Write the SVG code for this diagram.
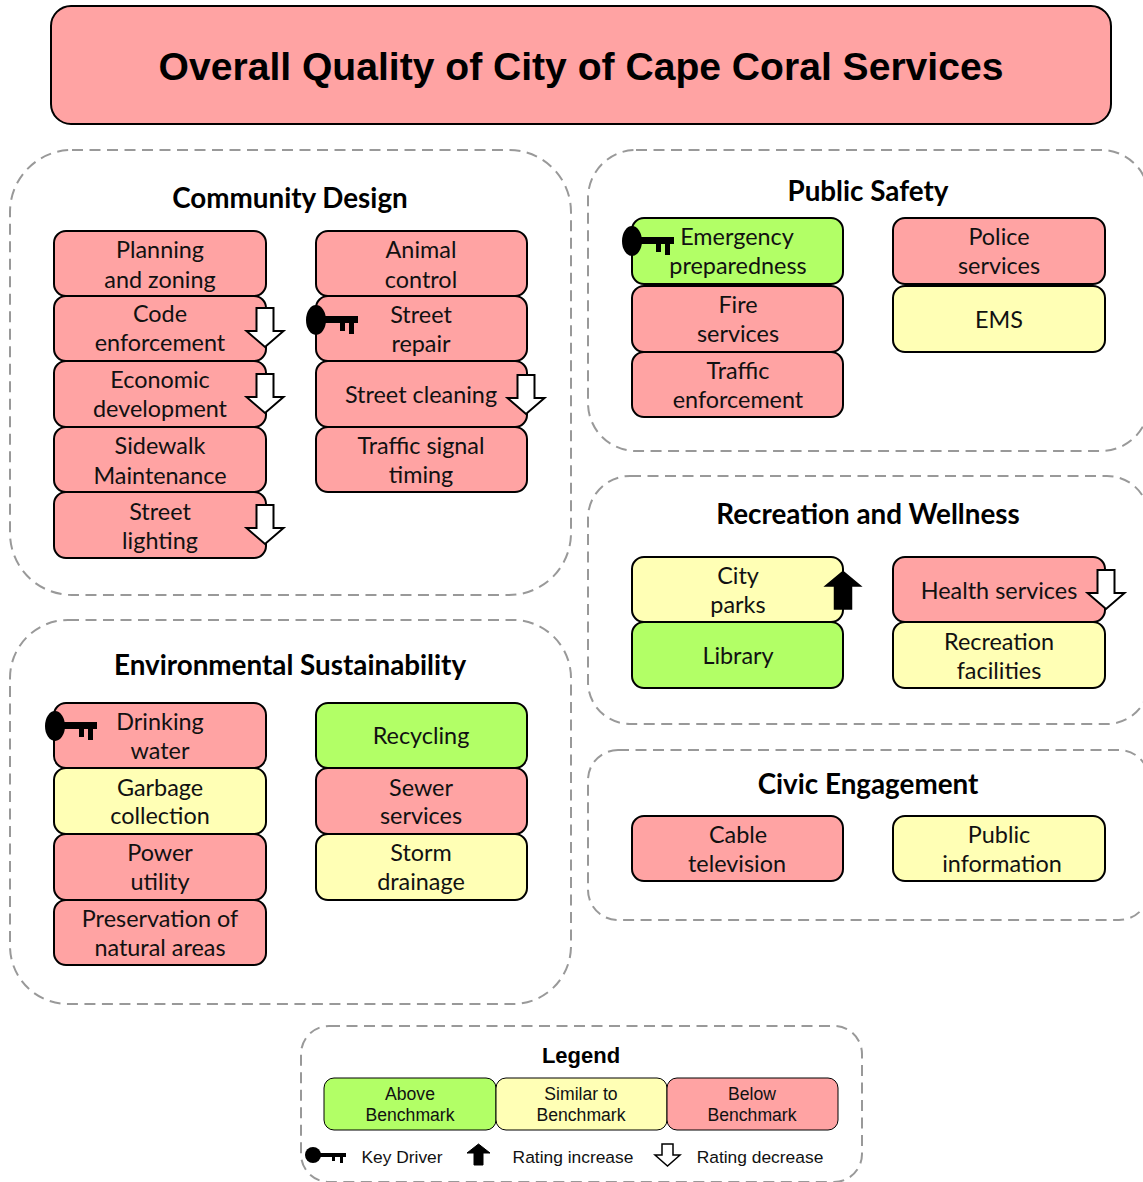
<svg xmlns="http://www.w3.org/2000/svg" xmlns:xlink="http://www.w3.org/1999/xlink" width="1143" height="1182" viewBox="0 0 1143 1182">
<style>
text{font-family:"Lato","Open Sans","Liberation Sans",sans-serif;fill:#111;text-anchor:middle}
.n{font-size:23.400px}
.h{font-size:27.800px;font-weight:700;fill:#000}
.a{font-family:"Liberation Sans",Arial,sans-serif}
.l{font-size:17.600px}
.lg{font-size:17.400px}
.panel{fill:#fff;stroke:#999;stroke-width:2;stroke-dasharray:11 6.5}
.box{stroke:#000;stroke-width:2}
.r{fill:#ffa3a3}.y{fill:#ffffb5}.g{fill:#b2ff66}
</style>
<defs>
<g id="key"><ellipse cx="0" cy="0" rx="10" ry="15"/><path d="M8-4H42V3H38V14H33V3H29V11H24V3H8Z"/></g>
<path id="down" d="M-8.500 0H8.500V23H18.500L0 39L-18.500 23H-8.500Z" fill="#fff" stroke="#000" stroke-width="2"/>
<path id="up" d="M-8.500 38H8.500V15H17.500L0 0.500L-17.500 15H-8.500Z" fill="#000" stroke="#000" stroke-width="1.500"/>
</defs>
<rect width="1143" height="1182" fill="#fff"/>

<g id="title"><rect x="51" y="6" width="1060" height="118" rx="20" class="r" stroke="#000" stroke-width="2"/>
<text class="a" x="581" y="80" font-size="39.100" font-weight="700" style="fill:#000">Overall Quality of City of Cape Coral Services</text></g>

<g id="community-design"><rect class="panel" x="10" y="150" width="561" height="445" rx="62"/><text class="h" x="290" y="208">Community Design</text></g>
<g id="environmental-sustainability"><rect class="panel" x="10" y="620" width="561" height="384" rx="58"/><text class="h" x="290" y="675">Environmental Sustainability</text></g>
<g id="public-safety"><rect class="panel" x="588" y="150" width="561" height="301" rx="48"/><text class="h" x="868" y="201">Public Safety</text></g>
<g id="recreation-wellness"><rect class="panel" x="588" y="476" width="561" height="248" rx="42"/><text class="h" x="868" y="524">Recreation and Wellness</text></g>
<g id="civic-engagement"><rect class="panel" x="588" y="750" width="561" height="170" rx="30"/><text class="h" x="868" y="794">Civic Engagement</text></g>

<g id="planning"><rect class="box r" x="54" y="231" width="212" height="65" rx="12"/><text class="n" x="160" y="258">Planning</text><text class="n" x="160" y="288">and zoning</text></g>
<g id="code"><rect class="box r" x="54" y="296" width="212" height="65" rx="12"/><text class="n" x="160" y="322">Code</text><text class="n" x="160" y="351">enforcement</text><use href="#down" x="265" y="308"/></g>
<g id="economic"><rect class="box r" x="54" y="361" width="212" height="66" rx="12"/><text class="n" x="160" y="388">Economic</text><text class="n" x="160" y="417">development</text><use href="#down" x="265" y="374"/></g>
<g id="sidewalk"><rect class="box r" x="54" y="427" width="212" height="65" rx="12"/><text class="n" x="160" y="454">Sidewalk</text><text class="n" x="160" y="484">Maintenance</text></g>
<g id="lighting"><rect class="box r" x="54" y="492" width="212" height="66" rx="12"/><text class="n" x="160" y="520">Street</text><text class="n" x="160" y="549">lighting</text><use href="#down" x="265" y="505"/></g>

<g id="animal"><rect class="box r" x="316" y="231" width="211" height="65" rx="12"/><text class="n" x="421" y="258">Animal</text><text class="n" x="421" y="288">control</text></g>
<g id="repair"><rect class="box r" x="316" y="296" width="211" height="65" rx="12"/><text class="n" x="421" y="323">Street</text><text class="n" x="421" y="352">repair</text><use href="#key" x="316" y="320"/></g>
<g id="cleaning"><rect class="box r" x="316" y="361" width="211" height="66" rx="12"/><text class="n" x="421" y="403">Street cleaning</text><use href="#down" x="526" y="375"/></g>
<g id="signal"><rect class="box r" x="316" y="427" width="211" height="65" rx="12"/><text class="n" x="421" y="454">Traffic signal</text><text class="n" x="421" y="483">timing</text></g>

<g id="drinking"><rect class="box r" x="54" y="703" width="212" height="65" rx="12"/><text class="n" x="160" y="730">Drinking</text><text class="n" x="160" y="759">water</text><use href="#key" x="55" y="726"/></g>
<g id="garbage"><rect class="box y" x="54" y="768" width="212" height="66" rx="12"/><text class="n" x="160" y="796">Garbage</text><text class="n" x="160" y="824">collection</text></g>
<g id="power"><rect class="box r" x="54" y="834" width="212" height="66" rx="12"/><text class="n" x="160" y="861">Power</text><text class="n" x="160" y="890">utility</text></g>
<g id="preservation"><rect class="box r" x="54" y="900" width="212" height="65" rx="12"/><text class="n" x="160" y="927">Preservation of</text><text class="n" x="160" y="956">natural areas</text></g>
<g id="recycling"><rect class="box g" x="316" y="703" width="211" height="65" rx="12"/><text class="n" x="421" y="744">Recycling</text></g>
<g id="sewer"><rect class="box r" x="316" y="768" width="211" height="66" rx="12"/><text class="n" x="421" y="796">Sewer</text><text class="n" x="421" y="824">services</text></g>
<g id="storm"><rect class="box y" x="316" y="834" width="211" height="66" rx="12"/><text class="n" x="421" y="861">Storm</text><text class="n" x="421" y="890">drainage</text></g>

<g id="emergency"><rect class="box g" x="632" y="218" width="211" height="66" rx="12"/><text class="n" x="737" y="245">Emergency</text><text class="n" x="738" y="274">preparedness</text><use href="#key" x="632" y="241"/></g>
<g id="fire"><rect class="box r" x="632" y="286" width="211" height="66" rx="12"/><text class="n" x="738" y="313">Fire</text><text class="n" x="738" y="342">services</text></g>
<g id="traffic"><rect class="box r" x="632" y="352" width="211" height="65" rx="12"/><text class="n" x="738" y="379">Traffic</text><text class="n" x="738" y="408">enforcement</text></g>
<g id="police"><rect class="box r" x="893" y="218" width="212" height="66" rx="12"/><text class="n" x="999" y="245">Police</text><text class="n" x="999" y="274">services</text></g>
<g id="ems"><rect class="box y" x="893" y="286" width="212" height="66" rx="12"/><text class="n" x="999" y="328">EMS</text></g>

<g id="parks"><rect class="box y" x="632" y="557" width="211" height="65" rx="12"/><text class="n" x="738" y="584">City</text><text class="n" x="738" y="613">parks</text><use href="#up" x="843" y="571"/></g>
<g id="library"><rect class="box g" x="632" y="622" width="211" height="66" rx="12"/><text class="n" x="738" y="664">Library</text></g>
<g id="health"><rect class="box r" x="893" y="557" width="212" height="65" rx="12"/><text class="n" x="999" y="599">Health services</text><use href="#down" x="1106" y="570"/></g>
<g id="recreation"><rect class="box y" x="893" y="622" width="212" height="66" rx="12"/><text class="n" x="999" y="650">Recreation</text><text class="n" x="999" y="679">facilities</text></g>

<g id="cable"><rect class="box r" x="632" y="816" width="211" height="65" rx="12"/><text class="n" x="738" y="843">Cable</text><text class="n" x="737" y="872">television</text></g>
<g id="public-information"><rect class="box y" x="893" y="816" width="212" height="65" rx="12"/><text class="n" x="999" y="843">Public</text><text class="n" x="1002" y="872">information</text></g>

<g id="legend"><rect class="panel" x="301" y="1026" width="561" height="156" rx="28"/>
<text class="a" x="581" y="1063" font-size="22" font-weight="700" style="fill:#000">Legend</text>
<rect x="324" y="1078" width="172" height="52" rx="10" class="g" stroke="#000"/><text class="a l" x="410" y="1100">Above</text><text class="a l" x="410" y="1121">Benchmark</text>
<rect x="496" y="1078" width="171" height="52" rx="10" class="y" stroke="#000"/><text class="a l" x="581" y="1100">Similar to</text><text class="a l" x="581" y="1121">Benchmark</text>
<rect x="667" y="1078" width="171" height="52" rx="10" class="r" stroke="#000"/><text class="a l" x="752" y="1100">Below</text><text class="a l" x="752" y="1121">Benchmark</text>
<ellipse cx="313" cy="1155" rx="8" ry="8"/><path d="M318 1153H346V1157H343V1163H340V1157H335V1161H332V1157H318Z"/>
<text class="a lg" x="402" y="1163">Key Driver</text>
<path d="M474 1165H483V1153H490L478.500 1144L467 1153H474Z" stroke="#000"/>
<text class="a lg" x="573" y="1163">Rating increase</text>
<path d="M662 1144H673V1155H680L667.500 1166L655 1155H662Z" fill="#fff" stroke="#000" stroke-width="1.500"/>
<text class="a lg" x="760" y="1163">Rating decrease</text>
</g>
<g id="connectors"/>
</svg>
